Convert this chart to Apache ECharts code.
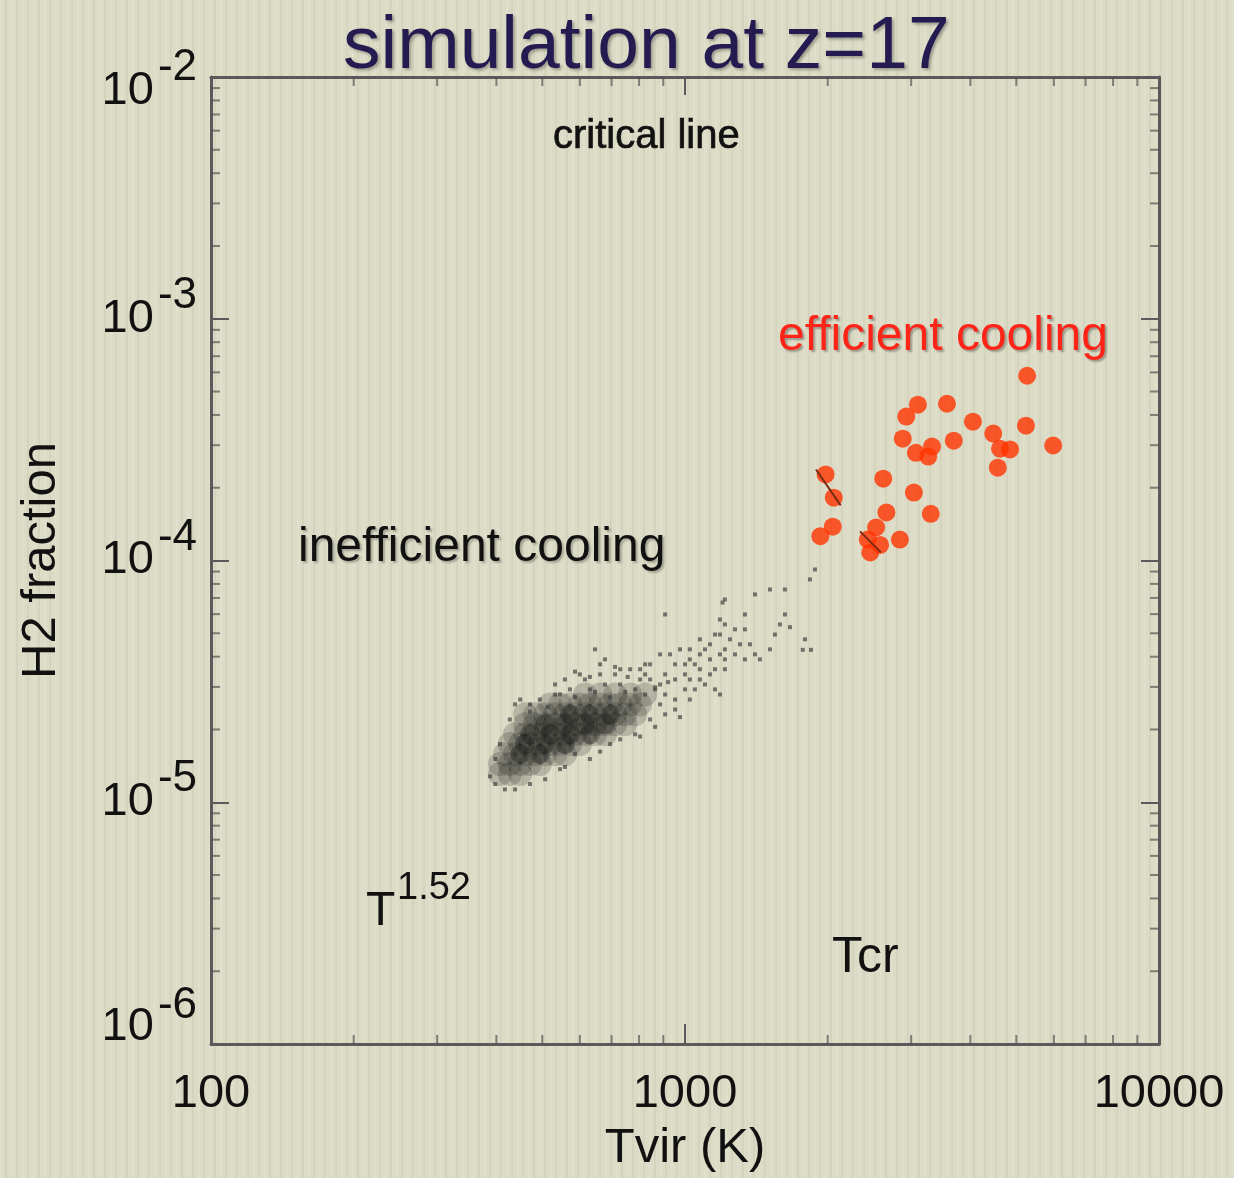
<!DOCTYPE html>
<html>
<head>
<meta charset="utf-8">
<title>simulation at z=17</title>
<script src="https://cdn.jsdelivr.net/npm/echarts@6/dist/echarts.min.js"></script>
<style>
  html, body { margin: 0; padding: 0; }
  body {
    width: 1234px;
    height: 1178px;
    background-color: #dcdbc5;
    background-image: repeating-linear-gradient(90deg,
      rgba(255,255,255,0.12) 0px, rgba(255,255,255,0.12) 2px,
      rgba(0,0,0,0) 2px, rgba(0,0,0,0) 5px,
      rgba(0,0,0,0.035) 5px, rgba(0,0,0,0.035) 7px,
      rgba(0,0,0,0) 7px, rgba(0,0,0,0) 11px);
  }
  #chart { width: 1234px; height: 1178px; }
</style>
</head>
<body>
<div id="chart"></div>
<script>
  // axis ranges and ticks
  const xRange = [100, 10000];
  const yRange = [1e-6, 1e-2];
  const xMinorTicks = [200, 300, 400, 500, 600, 700, 800, 900, 2000, 3000, 4000, 5000, 6000, 7000, 8000, 9000];
  const yMinorTicks = [
    2e-6, 3e-6, 4e-6, 5e-6, 6e-6, 7e-6, 8e-6, 9e-6,
    2e-5, 3e-5, 4e-5, 5e-5, 6e-5, 7e-5, 8e-5, 9e-5,
    2e-4, 3e-4, 4e-4, 5e-4, 6e-4, 7e-4, 8e-4, 9e-4,
    2e-3, 3e-3, 4e-3, 5e-3, 6e-3, 7e-3, 8e-3, 9e-3
  ];

  // haloes above Tcr (red): [Tvir K, H2 fraction]
  const efficientHaloes = [
    [5270, 5.81e-4], [3100, 4.41e-4], [3570, 4.45e-4], [2930, 3.94e-4],
    [4050, 3.75e-4], [5240, 3.61e-4], [2880, 3.19e-4], [3690, 3.13e-4],
    [4470, 3.35e-4], [3070, 2.79e-4], [3260, 2.69e-4], [3320, 2.96e-4],
    [4620, 2.90e-4], [4850, 2.88e-4], [5980, 2.99e-4], [4570, 2.42e-4],
    [1980, 2.27e-4], [2060, 1.82e-4], [2620, 2.18e-4], [3040, 1.91e-4],
    [2660, 1.58e-4], [3300, 1.56e-4], [2050, 1.38e-4], [1930, 1.26e-4],
    [2530, 1.37e-4], [2430, 1.22e-4], [2580, 1.16e-4], [2460, 1.08e-4],
    [2840, 1.22e-4]
  ];

  // dark streaks across merged red points
  const streakA = [[1890, 2.38e-4], [2130, 1.69e-4]];
  const streakB = [[2340, 1.32e-4], [2590, 1.08e-4]];

  // dense part of the grey cloud (below Tcr)
  const cloudCore = [
    [407, 1.31e-5], [427, 1.31e-5], [449, 1.31e-5],
    [407, 1.44e-5], [427, 1.44e-5], [449, 1.44e-5], [471, 1.44e-5], [494, 1.44e-5],
    [417, 1.58e-5], [438, 1.58e-5], [460, 1.58e-5], [483, 1.58e-5], [507, 1.58e-5], [532, 1.58e-5], [558, 1.58e-5],
    [427, 1.74e-5], [449, 1.74e-5], [471, 1.74e-5], [494, 1.74e-5], [519, 1.74e-5], [545, 1.74e-5], [572, 1.74e-5], [600, 1.74e-5],
    [438, 1.91e-5], [460, 1.91e-5], [483, 1.91e-5], [507, 1.91e-5], [532, 1.91e-5], [558, 1.91e-5], [586, 1.91e-5], [615, 1.91e-5], [646, 1.91e-5], [678, 1.91e-5],
    [460, 2.10e-5], [483, 2.10e-5], [507, 2.10e-5], [532, 2.10e-5], [558, 2.10e-5], [586, 2.10e-5], [615, 2.10e-5], [646, 2.10e-5], [678, 2.10e-5], [712, 2.10e-5], [748, 2.10e-5],
    [460, 2.31e-5], [483, 2.31e-5], [507, 2.31e-5], [532, 2.31e-5], [558, 2.31e-5], [586, 2.31e-5], [615, 2.31e-5], [646, 2.31e-5], [678, 2.31e-5], [712, 2.31e-5], [748, 2.31e-5], [785, 2.31e-5],
    [519, 2.54e-5], [545, 2.54e-5], [572, 2.54e-5], [600, 2.54e-5], [630, 2.54e-5], [662, 2.54e-5], [695, 2.54e-5], [730, 2.54e-5], [766, 2.54e-5], [804, 2.54e-5],
    [615, 2.79e-5], [662, 2.79e-5], [712, 2.79e-5], [766, 2.79e-5], [824, 2.79e-5]
  ];
  const cloudCenter = [
    [449, 1.58e-5], [494, 1.58e-5],
    [460, 1.74e-5], [507, 1.74e-5], [558, 1.74e-5],
    [471, 1.91e-5], [519, 1.91e-5], [572, 1.91e-5], [630, 1.91e-5],
    [507, 2.10e-5], [558, 2.10e-5], [615, 2.10e-5], [678, 2.10e-5],
    [572, 2.31e-5], [630, 2.31e-5], [695, 2.31e-5]
  ];
  // scattered grey haloes round the cloud
  const cloudOuter = [
    [1880, 9.18e-5], [1835, 8.35e-5], [1405, 7.24e-5], [1511, 7.59e-5], [1625, 7.59e-5],
    [1214, 6.90e-5], [1200, 6.70e-5], [1338, 5.98e-5], [1185, 5.70e-5], [1214, 5.44e-5],
    [1625, 5.98e-5], [1586, 5.44e-5], [1665, 5.30e-5], [1548, 4.94e-5], [1275, 5.19e-5],
    [1157, 4.94e-5], [1338, 5.19e-5], [1791, 4.72e-5], [1244, 4.72e-5], [1306, 4.50e-5],
    [1214, 4.29e-5], [1371, 4.50e-5], [1511, 4.29e-5], [1772, 4.27e-5], [1844, 4.27e-5],
    [1405, 4.09e-5], [1275, 4.09e-5], [1214, 3.90e-5], [1338, 3.90e-5], [1439, 3.90e-5],
    [1102, 4.29e-5], [1075, 4.72e-5], [908, 5.98e-5], [1185, 4.94e-5], [1129, 4.50e-5],
    [886, 4.09e-5], [930, 4.09e-5], [976, 4.29e-5], [1024, 4.29e-5], [1075, 4.09e-5],
    [1024, 3.90e-5], [1000, 3.72e-5], [1129, 3.90e-5], [1185, 4.09e-5], [678, 3.90e-5],
    [844, 3.72e-5], [953, 3.72e-5], [1049, 3.72e-5], [1075, 3.55e-5], [1157, 3.55e-5],
    [1214, 3.55e-5], [1000, 3.38e-5], [1129, 3.38e-5], [1024, 3.22e-5], [1102, 3.07e-5],
    [1157, 2.93e-5], [1185, 2.79e-5], [953, 3.22e-5], [1000, 2.93e-5], [953, 2.66e-5],
    [953, 2.42e-5], [908, 2.79e-5], [865, 2.93e-5], [804, 3.22e-5], [766, 3.55e-5],
    [730, 3.55e-5], [712, 3.38e-5], [646, 4.29e-5], [532, 3.07e-5], [438, 2.54e-5],
    [427, 2.20e-5], [407, 1.74e-5], [398, 1.51e-5], [398, 1.19e-5], [417, 1.13e-5],
    [507, 1.245e-5], [545, 1.37e-5], [586, 1.58e-5], [785, 1.91e-5], [449, 2.66e-5],
    [471, 2.54e-5], [558, 3.22e-5], [662, 3.72e-5], [824, 3.72e-5], [532, 2.79e-5],
    [615, 3.22e-5], [572, 2.93e-5], [630, 2.93e-5], [678, 3.07e-5], [730, 3.07e-5],
    [785, 2.93e-5], [844, 3.22e-5], [886, 3.07e-5], [908, 3.38e-5], [804, 3.55e-5],
    [662, 3.38e-5], [600, 3.38e-5], [908, 2.31e-5], [844, 2.20e-5], [695, 1.74e-5],
    [730, 1.82e-5],
    [545, 2.79e-5], [586, 2.72e-5], [646, 2.86e-5], [695, 2.72e-5], [748, 2.86e-5],
    [824, 2.79e-5], [865, 2.99e-5], [921, 3.14e-5], [494, 2.66e-5], [513, 2.48e-5],
    [471, 2.37e-5], [662, 1.62e-5], [804, 1.87e-5], [865, 2.05e-5], [976, 2.25e-5],
    [630, 1.51e-5], [558, 1.40e-5], [471, 1.19e-5], [438, 1.13e-5], [388, 1.28e-5],
    [1024, 2.66e-5], [1049, 2.93e-5], [886, 2.54e-5], [1075, 3.22e-5], [586, 3.47e-5],
    [630, 3.30e-5], [712, 3.63e-5], [757, 3.30e-5], [824, 3.38e-5]
  ];

  const font = "'Liberation Sans', Arial, Helvetica, sans-serif";
  const axisColor = "#5a5a5a";
  const tickColor = "rgba(80, 80, 80, 0.85)";

  const chart = echarts.init(document.getElementById("chart"));

  // 10^n labels; the end labels sit a little inside the box, as in the original
  function yLabel(v) {
    const e = Math.round(Math.log10(v));
    if (e === -2) return "{sp| }{bt|10}{st|" + e + "}";
    if (e === -6) return "{spb| }{bb|10}{sb|" + e + "}";
    return "{sp| }{b|10}{s|" + e + "}";
  }

  function minorTicks(points, w, h, off) {
    return {
      type: "scatter",
      silent: true,
      clip: false,
      symbol: "rect",
      symbolSize: [w, h],
      symbolOffset: off,
      itemStyle: { color: tickColor },
      z: 5,
      data: points,
    };
  }

  const labelText = { color: "#111", fontFamily: font };

  const option = {
    animation: false,
    backgroundColor: "transparent",
    textStyle: { fontFamily: font },
    title: {
      text: "simulation at z=17",
      left: 338,
      top: 5,
      textStyle: {
        fontFamily: font,
        fontSize: 75,
        fontWeight: "normal",
        color: "#241b50",
        textShadowColor: "rgba(0,0,0,0.3)",
        textShadowBlur: 3,
        textShadowOffsetX: 2,
        textShadowOffsetY: 2,
      },
    },
    grid: { left: 211, right: 75, top: 77, bottom: 133 },
    xAxis: [
      {
        type: "log",
        min: xRange[0],
        max: xRange[1],
        position: "bottom",
        name: "Tvir (K)",
        nameLocation: "middle",
        nameGap: 80,
        nameTextStyle: { fontSize: 49, color: "#111", fontFamily: font },
        axisLine: { show: true, lineStyle: { color: axisColor, width: 3 } },
        axisTick: { show: true, inside: true, length: 20, lineStyle: { color: axisColor, width: 2 } },
        axisLabel: { fontSize: 47, color: "#111", margin: 27, fontFamily: font, formatter: (v) => String(v) },
        splitLine: { show: false },
      },
      {
        type: "log",
        min: xRange[0],
        max: xRange[1],
        position: "top",
        axisLine: { show: true, lineStyle: { color: axisColor, width: 3 } },
        axisTick: { show: true, inside: true, length: 18, lineStyle: { color: axisColor, width: 2 } },
        axisLabel: { show: false },
        splitLine: { show: false },
      },
    ],
    yAxis: [
      {
        type: "log",
        min: yRange[0],
        max: yRange[1],
        position: "left",
        name: "H2 fraction",
        nameLocation: "middle",
        nameRotate: 90,
        nameGap: 145,
        nameTextStyle: { fontSize: 49, color: "#111", fontFamily: font },
        axisLine: { show: true, lineStyle: { color: axisColor, width: 3 } },
        axisTick: { show: true, inside: true, length: 18, lineStyle: { color: axisColor, width: 2 } },
        axisLabel: {
          margin: 14,
          formatter: yLabel,
          rich: {
            sp: { fontSize: 4, lineHeight: 90 },
            spb: { fontSize: 4, lineHeight: 120 },
            b: Object.assign({ fontSize: 47 }, labelText),
            s: Object.assign({ fontSize: 44, verticalAlign: "top", padding: [0, 0, 0, 4] }, labelText),
            bt: Object.assign({ fontSize: 47, verticalAlign: "top", padding: [36, 0, 0, 0] }, labelText),
            st: Object.assign({ fontSize: 44, verticalAlign: "top", padding: [14, 0, 0, 4] }, labelText),
            bb: Object.assign({ fontSize: 47, verticalAlign: "top", padding: [20, 0, 0, 0] }, labelText),
            sb: Object.assign({ fontSize: 44, verticalAlign: "top", padding: [0, 0, 0, 4] }, labelText),
          },
        },
        splitLine: { show: false },
      },
      {
        type: "log",
        min: yRange[0],
        max: yRange[1],
        position: "right",
        axisLine: { show: true, lineStyle: { color: axisColor, width: 3 } },
        axisTick: { show: true, inside: true, length: 18, lineStyle: { color: axisColor, width: 2 } },
        axisLabel: { show: false },
        splitLine: { show: false },
      },
    ],
    series: [
      {
        name: "core",
        type: "scatter",
        symbol: "circle",
        symbolSize: 24,
        itemStyle: { color: "rgba(25, 25, 25, 0.25)" },
        data: cloudCore,
      },
      {
        name: "center",
        type: "scatter",
        symbol: "circle",
        symbolSize: 20,
        itemStyle: { color: "rgba(10, 10, 10, 0.38)" },
        data: cloudCenter,
      },
      {
        name: "outer",
        type: "scatter",
        symbol: "rect",
        symbolSize: 4,
        itemStyle: { color: "rgba(65, 65, 65, 0.85)" },
        data: cloudOuter,
      },
      {
        name: "efficient",
        type: "scatter",
        symbol: "circle",
        symbolSize: 18,
        itemStyle: { color: "#ff3300" },
        data: efficientHaloes,
      },
      {
        type: "line",
        symbol: "none",
        silent: true,
        lineStyle: { color: "#7a2a12", width: 2 },
        data: streakA,
      },
      {
        type: "line",
        symbol: "none",
        silent: true,
        lineStyle: { color: "#7a2a12", width: 2 },
        data: streakB,
      },
      minorTicks(yMinorTicks.map((v) => [xRange[0], v]), 9, 2, [4.5, 0]),
      minorTicks(yMinorTicks.map((v) => [xRange[1], v]), 9, 2, [-4.5, 0]),
      minorTicks(xMinorTicks.map((v) => [v, yRange[0]]), 2, 9, [0, -4.5]),
      minorTicks(xMinorTicks.map((v) => [v, yRange[1]]), 2, 9, [0, 4.5]),
    ],
    graphic: [
      {
        type: "text",
        x: 553,
        y: 137,
        style: {
          text: "critical line", fontSize: 40, fontFamily: font, fill: "#111", verticalAlign: "middle",
          stroke: "#111", lineWidth: 0.7,
        },
      },
      {
        type: "text",
        x: 778,
        y: 337,
        style: {
          text: "efficient cooling", fontSize: 48, fontFamily: font, fill: "#ff2418", verticalAlign: "middle",
          textShadowColor: "rgba(0,0,0,0.3)", textShadowBlur: 2, textShadowOffsetX: 2, textShadowOffsetY: 2,
        },
      },
      {
        type: "text",
        x: 298,
        y: 548,
        style: {
          text: "inefficient cooling", fontSize: 48, fontFamily: font, fill: "#111", verticalAlign: "middle",
          textShadowColor: "rgba(0,0,0,0.25)", textShadowBlur: 2, textShadowOffsetX: 2, textShadowOffsetY: 2,
        },
      },
      {
        type: "text",
        x: 366,
        y: 912,
        style: { text: "T", fontSize: 48, fontFamily: font, fill: "#111", verticalAlign: "middle" },
      },
      {
        type: "text",
        x: 397,
        y: 889,
        style: { text: "1.52", fontSize: 38, fontFamily: font, fill: "#111", verticalAlign: "middle" },
      },
      {
        type: "text",
        x: 832,
        y: 958,
        style: { text: "Tcr", fontSize: 50, fontFamily: font, fill: "#111", verticalAlign: "middle" },
      },
    ],
  };

  chart.setOption(option);
  window.addEventListener("resize", () => {
    chart.resize();
  });
</script>
</body>
</html>
